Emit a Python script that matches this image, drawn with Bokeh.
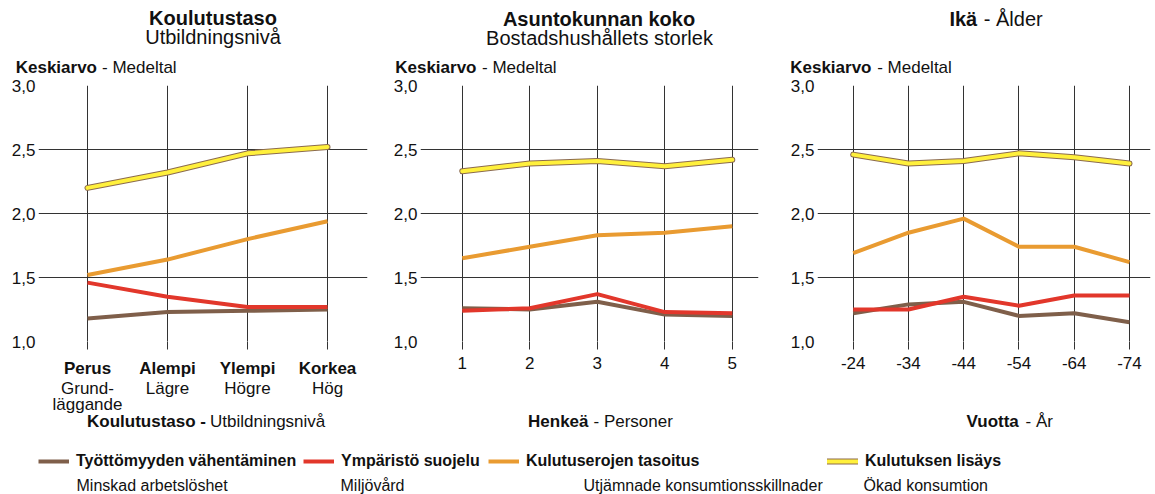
from bokeh.plotting import figure
from bokeh.models import Range1d, FixedTicker, Label, LabelSet, ColumnDataSource, Legend, LegendItem
from bokeh.layouts import column, row
from bokeh.embed import file_html
from bokeh.resources import INLINE
from bokeh.core.properties import value

FONT = "Liberation Sans"
TXT = "#111111"
GRID = "#333333"

# ---------------- data ----------------
y_ticks = [1.0, 1.5, 2.0, 2.5, 3.0]
y_tick_labels = ["1,0", "1,5", "2,0", "2,5", "3,0"]

series_names_fi = ["Työttömyyden vähentäminen", "Ympäristö suojelu",
                   "Kulutuserojen tasoitus", "Kulutuksen lisäys"]
series_names_sv = ["Minskad arbetslöshet", "Miljövård",
                   "Utjämnade konsumtionsskillnader", "Ökad konsumtion"]
series_colors = ["#7f5f4a", "#e2372b", "#e99b31", "#fff03c"]
outline_color = "#8c6b4e"

edu_fi = ["Perus", "Alempi", "Ylempi", "Korkea"]
edu_sv = ["Grund-\nläggande", "Lägre", "Högre", "Hög"]
edu_unemp = [1.18, 1.23, 1.24, 1.25]
edu_env = [1.46, 1.35, 1.27, 1.27]
edu_equal = [1.52, 1.64, 1.80, 1.94]
edu_cons = [2.20, 2.32, 2.47, 2.52]

hh_sizes = ["1", "2", "3", "4", "5"]
hh_unemp = [1.26, 1.25, 1.31, 1.21, 1.20]
hh_env = [1.24, 1.26, 1.37, 1.23, 1.22]
hh_equal = [1.65, 1.74, 1.83, 1.85, 1.90]
hh_cons = [2.33, 2.39, 2.41, 2.37, 2.42]

age_groups = ["-24", "-34", "-44", "-54", "-64", "-74"]
age_unemp = [1.22, 1.29, 1.31, 1.20, 1.22, 1.15]
age_env = [1.25, 1.25, 1.35, 1.28, 1.36, 1.36]
age_equal = [1.69, 1.85, 1.96, 1.74, 1.74, 1.62]
age_cons = [2.46, 2.39, 2.41, 2.47, 2.44, 2.39]

# ---------------- layout constants (page px) ----------------
W = 1155
HEAD_H = 77            # header: page y 0..77
PANEL_H = 303          # panels: page y 77..380
FOOT_TOP = HEAD_H + PANEL_H
FOOT_H = 494 - FOOT_TOP


def put(p, top, bottom, x, y, text, size, bold=False, align="left"):
    """text at page coords in a full-width band figure spanning page y top..bottom"""
    p.add_layout(Label(x=x, y=bottom - y, x_units="screen", y_units="screen",
                       text=text, text_font=FONT, text_font_size=f"{size}px",
                       text_font_style="bold" if bold else "normal",
                       text_color=TXT, text_align=align, text_baseline="middle"))


def band(height, x_range):
    b = figure(width=W, height=height, x_range=x_range, y_range=Range1d(0, 1),
               x_axis_type=None, y_axis_type=None, min_border=0,
               output_backend="svg", toolbar_location=None)
    b.outline_line_color = None
    return b


def make_panel(labels, series, x_start, x_end, width, ml, mr, std_x, bold_ticks):
    xs = list(range(len(labels)))
    p = figure(width=width, height=PANEL_H, x_range=Range1d(x_start, x_end),
               y_range=Range1d(1.0, 3.0), output_backend="svg", toolbar_location=None,
               min_border_left=ml, min_border_right=mr, min_border_top=8,
               min_border_bottom=PANEL_H - 8 - 256)
    p.outline_line_color = None
    xt = FixedTicker(ticks=xs)
    yt = FixedTicker(ticks=y_ticks)
    p.xaxis.ticker = xt
    p.xgrid.ticker = xt
    p.yaxis.ticker = yt
    p.ygrid.ticker = yt
    p.xaxis.major_label_overrides = {i: lab for i, lab in zip(xs, labels)}
    p.yaxis.major_label_overrides = {v: lab for v, lab in zip(y_ticks, y_tick_labels)}
    for ax in (p.xaxis, p.yaxis):
        ax.axis_line_color = None
        ax.minor_tick_line_color = None
        ax.major_tick_in = 0
        ax.major_label_text_font = FONT
        ax.major_label_text_font_size = "17px"
        ax.major_label_text_color = TXT
    p.xaxis.major_tick_out = 8
    p.xaxis.major_tick_line_color = GRID
    p.xaxis.major_label_standoff = std_x
    if bold_ticks:
        p.xaxis.major_label_text_font_style = "bold"
    p.yaxis.major_tick_out = 0
    p.yaxis.major_tick_line_color = None
    p.yaxis.major_label_standoff = 3
    for g in (p.xgrid, p.ygrid):
        g.grid_line_color = GRID
        g.grid_line_width = 1
        g.grid_line_alpha = 1.0
    unemp, env, equal, cons = series
    p.line(xs, unemp, line_color=series_colors[0], line_width=4, line_join="round")
    p.line(xs, env, line_color=series_colors[1], line_width=4, line_join="round")
    p.line(xs, equal, line_color=series_colors[2], line_width=4, line_join="round")
    p.line(xs, cons, line_color=outline_color, line_width=6, line_join="round", line_cap="round")
    p.line(xs, cons, line_color=series_colors[3], line_width=4, line_join="round", line_cap="round")
    return p, xs


# ---------------- panels ----------------
P1_START, P1_END = -0.6125, 3.5          # frame page x 38..367, 80 px / step
p1, xs1 = make_panel(edu_fi, [edu_unemp, edu_env, edu_equal, edu_cons],
                     P1_START, P1_END, 390, 38, 23, 9, True)
p2, xs2 = make_panel(hh_sizes, [hh_unemp, hh_env, hh_equal, hh_cons],
                     -0.6186, 4.3887, 390, 28, 22, 7, False)
p3, xs3 = make_panel(age_groups, [age_unemp, age_env, age_equal, age_cons],
                     -0.646, 5.38, 375, 37, 5, 7, False)

# ---------------- header (titles) ----------------
head = band(HEAD_H, Range1d(0, 1))
hb = HEAD_H
put(head, 0, hb, 212.5, 17.5, "Koulutustaso", 20, True, "center")
put(head, 0, hb, 212.5, 36.5, "Utbildningsnivå", 20, False, "center")
put(head, 0, hb, 598.5, 18, "Asuntokunnan koko", 20, True, "center")
put(head, 0, hb, 599, 37.5, "Bostadshushållets storlek", 20, False, "center")
put(head, 0, hb, 976.7, 18, "Ikä", 20, True, "right")
put(head, 0, hb, 983.3, 18, "- Ålder", 20, False, "left")
for kx, mx in [(96.5, 101.5), (476, 481.5), (871, 876.7)]:
    put(head, 0, hb, kx, 66.5, "Keskiarvo", 17, True, "right")
    put(head, 0, hb, mx, 66.5, "- Medeltal", 17, False, "left")

# ---------------- footer (tick sub-labels, axis titles, legend) ----------------
# footer x scale aligned with panel 1's x scale (frame page x 38 -> P1_START, 80 px per step)
px_per = 80.0
f_start = P1_START - 38 / px_per
foot = band(FOOT_H, Range1d(f_start, f_start + W / px_per))
fb = 494

sv_x, sv_y, sv_t = [], [], []
for i, lab in zip(xs1, edu_sv):
    for j, line in enumerate(lab.split("\n")):
        sv_x.append(i)
        sv_y.append(fb - (387.5 + 16.5 * j))
        sv_t.append(line)
foot.add_layout(LabelSet(x="x", y="y", text="t", y_units="screen",
                         source=ColumnDataSource(dict(x=sv_x, y=sv_y, t=sv_t)),
                         text_font=value(FONT), text_font_size=value("17px"),
                         text_color=TXT, text_align="center", text_baseline="middle"))

put(foot, FOOT_TOP, fb, 205.5, 421, "Koulutustaso -", 17, True, "right")
put(foot, FOOT_TOP, fb, 209.5, 421, "Utbildningsnivå", 17, False, "left")
put(foot, FOOT_TOP, fb, 588, 420.5, "Henkeä", 17, True, "right")
put(foot, FOOT_TOP, fb, 593, 420.5, "- Personer", 17, False, "left")
put(foot, FOOT_TOP, fb, 1018.3, 420.5, "Vuotta", 17, True, "right")
put(foot, FOOT_TOP, fb, 1025, 420.5, "- År", 17, False, "left")

# legend swatches come from off-frame renderers (y below the band's range)
dx, dy = [0, 1], [-1, -1]
r_unemp = foot.line(dx, dy, line_color=series_colors[0], line_width=4)
r_env = foot.line(dx, dy, line_color=series_colors[1], line_width=4)
r_equal = foot.line(dx, dy, line_color=series_colors[2], line_width=4)
r_cons_o = foot.line(dx, dy, line_color=outline_color, line_width=6, line_cap="round")
r_cons = foot.line(dx, dy, line_color=series_colors[3], line_width=4, line_cap="round")
leg_renderers = [[r_unemp], [r_env], [r_equal], [r_cons_o, r_cons]]
leg_glyph_x = [38, 303, 488, 827]
leg_text_x = [76, 340, 583, 863]
for name, rs, gx in zip(series_names_fi, leg_renderers, leg_glyph_x):
    lg = Legend(items=[LegendItem(label=name, renderers=rs)],
                location=(gx, fb - 461.5 - 8),
                orientation="horizontal", padding=0, margin=0, spacing=0,
                border_line_color=None, background_fill_alpha=0,
                glyph_width=31, glyph_height=16, label_height=16, label_standoff=7,
                label_text_font=FONT, label_text_font_size="16px",
                label_text_font_style="bold", label_text_color=TXT)
    foot.add_layout(lg)
for sv, tx in zip(series_names_sv, leg_text_x):
    put(foot, FOOT_TOP, fb, tx, 484.7, sv, 16, False, "left")

layout = column(head, row(p1, p2, p3), foot)
open("out.html", "w").write(file_html(layout, INLINE))
